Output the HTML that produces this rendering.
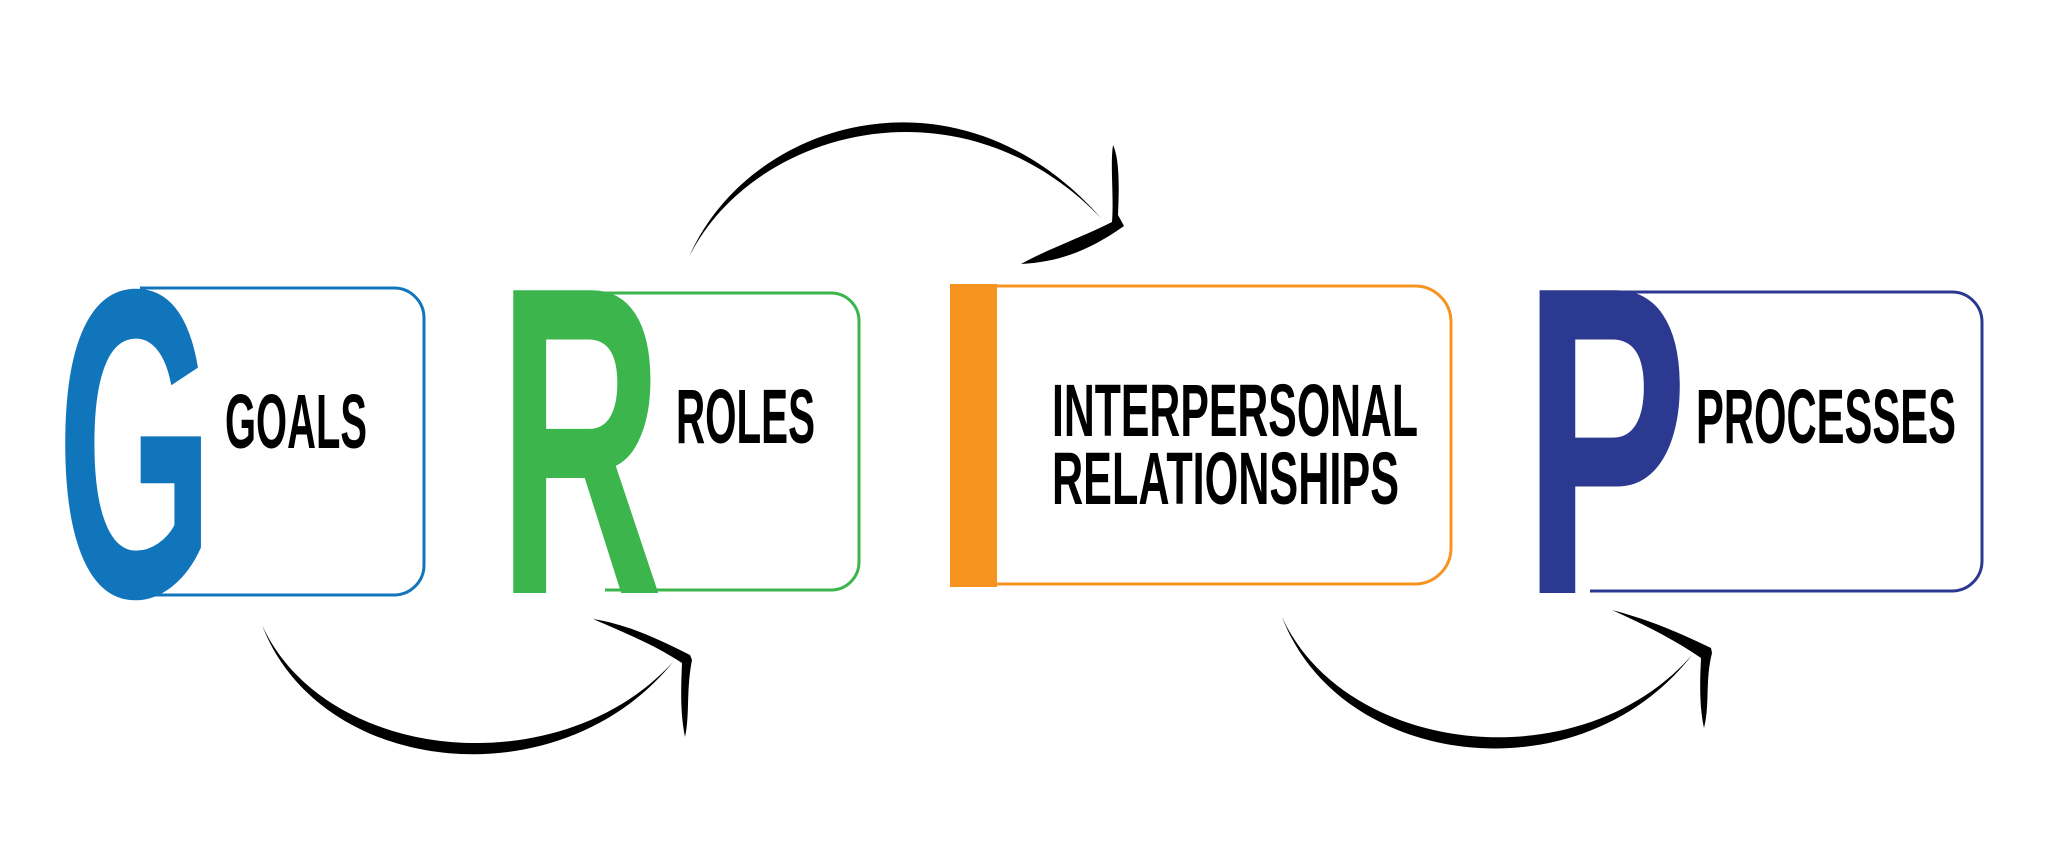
<!DOCTYPE html>
<html><head><meta charset="utf-8"><style>
html,body{margin:0;padding:0;background:#fff;width:2048px;height:865px;overflow:hidden}
svg{display:block}
text{font-family:"Liberation Sans",sans-serif;font-weight:bold}
</style></head><body>
<svg width="2048" height="865" viewBox="0 0 2048 865" xmlns="http://www.w3.org/2000/svg">
<!-- G -->
<path d="M140,288 H394 A30,30 0 0 1 424,318 V565 A30,30 0 0 1 394,595 H120" fill="none" stroke="#1175bc" stroke-width="3"/>
<text transform="translate(57,596) scale(0.457,1)" font-size="440" fill="#1175bc">G</text>
<text x="225" y="448" font-size="77" fill="#000" textLength="142" lengthAdjust="spacingAndGlyphs">GOALS</text>
<!-- R -->
<path d="M565,293 H831 A28,28 0 0 1 859,321 V562 A28,28 0 0 1 831,590 H605" fill="none" stroke="#3bb54c" stroke-width="3"/>
<text transform="translate(498,593) scale(0.519,1)" font-size="440" fill="#3bb54c">R</text>
<text x="676" y="443" font-size="77" fill="#000" textLength="139" lengthAdjust="spacingAndGlyphs">ROLES</text>
<!-- I -->
<path d="M990,286 H1415 A36,36 0 0 1 1451,322 V548 A36,36 0 0 1 1415,584 H990" fill="none" stroke="#f7941f" stroke-width="3"/>
<rect x="950" y="284" width="47" height="303" fill="#f7941f"/>
<text x="1052" y="436" font-size="74" fill="#000" textLength="366" lengthAdjust="spacingAndGlyphs">INTERPERSONAL</text>
<text x="1052" y="504" font-size="74" fill="#000" textLength="347" lengthAdjust="spacingAndGlyphs">RELATIONSHIPS</text>
<!-- P -->
<path d="M1590,292 H1952 A30,30 0 0 1 1982,322 V561 A30,30 0 0 1 1952,591 H1590" fill="none" stroke="#2b3990" stroke-width="3"/>
<text transform="translate(1523,593) scale(0.563,1)" font-size="440" fill="#2b3990">P</text>
<text x="1696" y="443" font-size="77" fill="#000" textLength="260" lengthAdjust="spacingAndGlyphs">PROCESSES</text>
<!-- top arrow -->
<path d="M689,257 C750,118 960,58 1101,218 C960,72 752,130 689,257 Z" fill="#000"/>
<path d="M1113,145 C1120,160 1119,190 1118,215 L1124,226 C1090,250 1060,262 1021,264 C1050,248 1085,236 1112,222 C1114,195 1110,165 1113,145 Z" fill="#000"/>
<!-- bottom left arrow -->
<path d="M262,625 C320,777 560,802 673,662 C560,786 325,763 262,625 Z" fill="#000"/>
<path d="M593,619 C630,625 660,640 690,655 L692,660 C686,690 690,715 685,737 C680,712 681,688 682,663 C655,645 625,633 593,619 Z" fill="#000"/>
<!-- bottom right arrow -->
<path d="M1282,617 C1340,769 1580,799 1692,655 C1580,783 1345,755 1282,617 Z" fill="#000"/>
<path d="M1612,610 C1650,620 1680,633 1711,648 L1712,653 C1705,680 1710,705 1704,728 C1699,705 1700,680 1701,658 C1675,640 1645,625 1612,610 Z" fill="#000"/>
</svg>
</body></html>
